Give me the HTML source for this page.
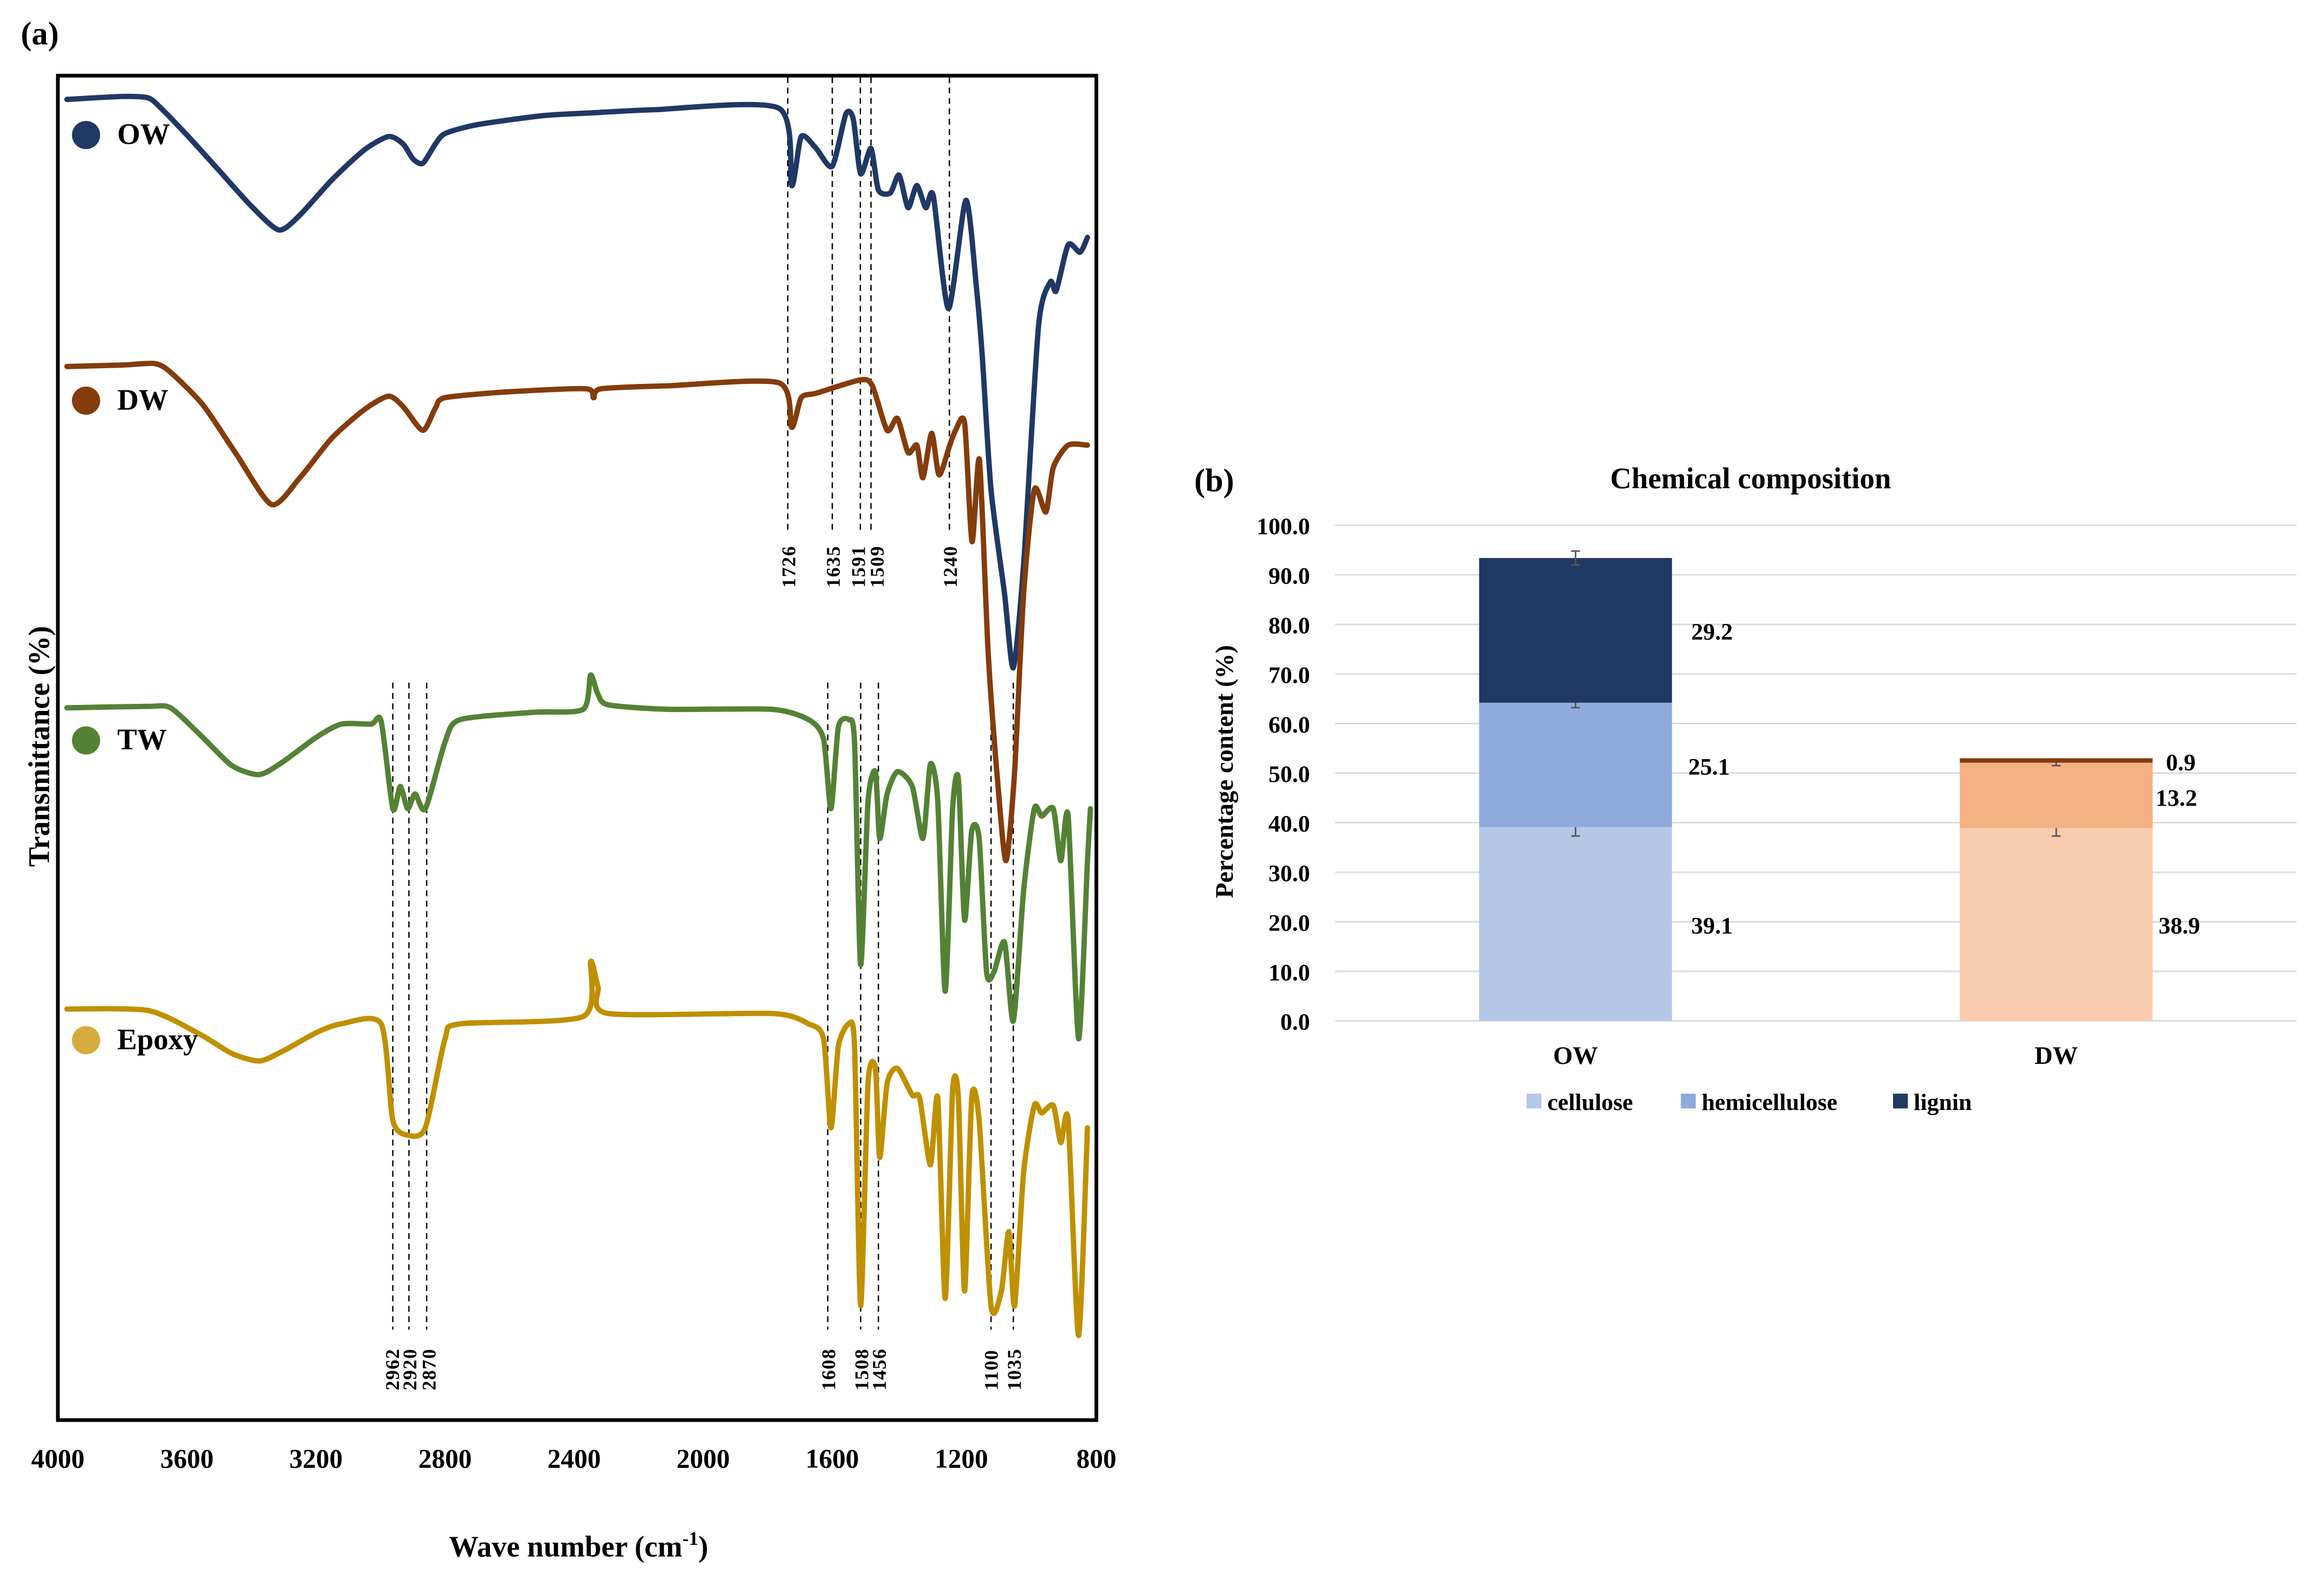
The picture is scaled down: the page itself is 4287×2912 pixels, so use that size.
<!DOCTYPE html>
<html><head><meta charset="utf-8"><style>
html,body{margin:0;padding:0;background:#fff;}
svg{display:block;}
text{font-family:"Liberation Serif",serif;font-weight:bold;fill:#000;}
</style></head><body>
<svg id="fig" width="4287" height="2912" viewBox="0 0 1566.5 1064.1" preserveAspectRatio="none" xmlns="http://www.w3.org/2000/svg">
<rect x="0" y="0" width="1570" height="1070" fill="#fff"/>
<text x="14" y="30" font-size="22">(a)</text>
<rect x="39" y="51" width="700" height="906" fill="none" stroke="#000" stroke-width="2.5"/>
<g id="ftir"></g>
<text x="390" y="1049" font-size="20" text-anchor="middle">Wave number (cm<tspan font-size="13" dy="-8">-1</tspan><tspan dy="8">)</tspan></text>
<text transform="translate(33,503) rotate(-90)" font-size="20" text-anchor="middle">Transmittance (%)</text>

<text x="805" y="331" font-size="22">(b)</text>
<text x="1180" y="329" font-size="20" text-anchor="middle">Chemical composition</text>
<text transform="translate(831,520) rotate(-90)" font-size="17" text-anchor="middle">Percentage content (%)</text>
<g id="bars"></g>
</svg>
<script>
// ---------- Panel (a) FTIR data ----------
const owWn = [3972,3800,3720,3680,3600,3500,3400,3315,3250,3150,3050,2975,2930,2900,2869,2830,2800,2700,2500,2340,2156,1765,1726,1696,1650,1600,1558,1535,1512,1480,1457,1420,1393,1365,1338,1310,1287,1240,1186,1154,1135,1108,1066,1039,1007,961,924,906,869,832,809];
const owT  = [890,892,891,884,866,842,818,802,812,836,856,865,860,850,847,860,867,873,879,881,883,884,832,865,857,845,880,877,840,857,829,827,839,817,832,817,825,749,822,765,717,627,557,507,577,737,767,761,792,787,797];
const dwWn = [3972,3800,3700,3650,3550,3450,3338,3250,3150,3050,2975,2930,2869,2830,2800,2600,2363,2340,2317,2110,1765,1726,1696,1650,1512,1476,1430,1398,1365,1338,1319,1292,1269,1236,1218,1190,1167,1144,1117,1090,1062,1035,1007,974,938,915,869,809];
const dwT  = [710,711,712,706,684,652,617,635,662,681,690,683,667,682,689,693,695,689,695,697,699,669,689,692,701,697,667,675,652,657,635,665,637,657,667,672,592,647,517,437,377,437,557,627,612,642,657,657];
const twWn = [3972,3720,3651,3560,3460,3375,3300,3200,3122,3030,2998,2962,2939,2916,2893,2861,2800,2754,2524,2372,2349,2326,2294,2110,1788,1673,1627,1604,1581,1549,1531,1512,1489,1466,1453,1430,1398,1352,1319,1296,1273,1250,1227,1209,1190,1168,1145,1122,1099,1066,1039,1007,974,951,915,892,869,837,809,800];
const twT  = [480,481,480,462,441,435,444,460,469,469,471,412,427,412,422,412,457,472,477,479,502,489,482,479,479,472,459,412,467,472,457,307,417,437,392,422,437,427,392,442,417,289,412,432,337,397,392,302,302,322,269,357,412,407,412,377,407,257,377,412];
const epWn = [3972,3720,3560,3460,3375,3300,3200,3122,2998,2962,2916,2861,2800,2754,2372,2349,2326,2294,1788,1673,1627,1604,1581,1549,1531,1512,1489,1466,1453,1430,1398,1352,1329,1296,1273,1250,1227,1209,1190,1168,1145,1108,1076,1053,1035,1007,974,951,915,892,869,837,809];
const epT  = [277,276,260,247,242,249,261,267,267,202,192,197,257,267,272,309,292,274,274,267,257,197,252,267,252,77,227,237,177,227,237,219,217,172,217,82,222,217,87,217,202,77,87,127,77,167,212,207,212,187,202,57,197];
const seriesNames = ["OW","DW","TW","Epoxy"];
const seriesColors = ["#203864","#843C0C","#548235","#BF9000"];
const markerColors = ["#203864","#843C0C","#548235","#D4AC3C"];
const topPeaks = [1726,1635,1591,1509,1240];
const topLineWn = [1738,1600,1513,1480,1237];
const topLabelWn = [1738,1600,1522,1464,1237];
const botPeaks = [2962,2920,2870,1608,1508,1456,1100,1035];
const botLineWn = [2962,2912,2857,1614,1512,1457,1108,1039];
const botLabelWn = [2966,2912,2852,1614,1512,1457,1110,1039];
const xTicks = [4000,3600,3200,2800,2400,2000,1600,1200,800];

const NS = "http://www.w3.org/2000/svg";
function mk(tag, attrs, parent){const e=document.createElementNS(NS,tag);for(const k in attrs)e.setAttribute(k,attrs[k]);parent.appendChild(e);return e;}
const xS = wn => 39 + (4000 - wn) * 0.2175;
const yS = t => 957 - t;
const g = document.getElementById('ftir');

function smoothPath(P){
  let d='M'+P[0][0].toFixed(1)+','+P[0][1].toFixed(1);
  for(let i=0;i<P.length-1;i++){
    const p0=P[Math.max(0,i-1)],p1=P[i],p2=P[i+1],p3=P[Math.min(P.length-1,i+2)];
    const k=0.12;
    const c1=[p1[0]+(p2[0]-p0[0])*k,p1[1]+(p2[1]-p0[1])*k];
    const c2=[p2[0]-(p3[0]-p1[0])*k,p2[1]-(p3[1]-p1[1])*k];
    d+=`C${c1[0].toFixed(1)},${c1[1].toFixed(1)} ${c2[0].toFixed(1)},${c2[1].toFixed(1)} ${p2[0].toFixed(1)},${p2[1].toFixed(1)}`;
  }
  return d;
}

topPeaks.forEach((p,i)=>{
  const x=xS(topLineWn[i]);
  const l=mk('line',{x1:x,x2:x,y1:52,y2:357,stroke:'#000','stroke-width':0.9,'stroke-dasharray':'4,3'},g);
  
  
  const t=mk('text',{transform:`translate(${xS(topLabelWn[i])+5},${396}) rotate(-90)`,'font-size':13,'letter-spacing':'0.6'},g);
  t.textContent=p;
  
  
});
botPeaks.forEach((p,i)=>{
  const x=xS(botLineWn[i]);
  const l=mk('line',{x1:x,x2:x,y1:460,y2:896,stroke:'#000','stroke-width':0.9,'stroke-dasharray':'4,3'},g);
  
  
  const t=mk('text',{transform:`translate(${xS(botLabelWn[i])+5},${937}) rotate(-90)`,'font-size':13,'letter-spacing':'0.6'},g);
  t.textContent=p;
  
  
});

const allWn=[owWn,dwWn,twWn,epWn], allT=[owT,dwT,twT,epT];
allWn.forEach((wn,i)=>{
  const P=wn.map((w,j)=>[xS(w),yS(allT[i][j])]);
  const pl=mk('path',{d:smoothPath(P),fill:'none',stroke:seriesColors[i],'stroke-width':3.6,'stroke-linejoin':'round','stroke-linecap':'round'},g);
  
  
});
const legY=[91,270,499,701];
seriesNames.forEach((n,i)=>{
  const c=mk('circle',{cx:58,cy:legY[i],r:9.5,fill:markerColors[i]},g);
  
  
  const t=mk('text',{x:79,y:legY[i]+6,'font-size':20},g);
  t.textContent=n;
  
  
});
xTicks.forEach((v,i)=>{
  const x = i===xTicks.length-1 ? xS(v)+4 : xS(v);
  const t=mk('text',{x:x,y:989,'font-size':18,'text-anchor':'middle'},g);
  t.textContent=v;
  
  
});

// ---------- Panel (b) composition data ----------
const categories = ["OW","DW"];
const components = ["cellulose","hemicellulose","lignin"];
const cellulose = [39.1,38.9];
const hemicellulose = [25.1,13.2];
const lignin = [29.2,0.9];
const errCellulose = [1.8,1.6];
const errHemi = [1.0,0.6];
const errLignin = [1.4,0.0];
const yTicks = [0,10,20,30,40,50,60,70,80,90,100];
const colorsOW = ["#B4C7E7","#8FAADC","#203864"];
const colorsDW = ["#F8CBAD","#F4B183","#843C0C"];

const b=document.getElementById('bars');
const yB = v => 688 - v*3.34;
const xC = i => 1062 + i*324;
const bw = 130;
yTicks.forEach(v=>{
  const l=mk('line',{x1:900,x2:1548,y1:yB(v),y2:yB(v),stroke:'#D9D9D9','stroke-width':1},b);
  
  
  const t=mk('text',{x:883,y:yB(v)+6,'font-size':16,'text-anchor':'end'},b);
  t.textContent=v.toFixed(1);
  
  
});
const vals=[cellulose,hemicellulose,lignin], errs=[errCellulose,errHemi,errLignin];
categories.forEach((c,i)=>{
  let base=0;
  const cols = i===0?colorsOW:colorsDW;
  vals.forEach((arr,k)=>{
    const v=arr[i];
    const r=mk('rect',{x:xC(i)-bw/2,y:yB(base+v),width:bw,height:yB(base)-yB(base+v),fill:cols[k]},b);
    
    
    const top=base+v, e=errs[k][i];
    if(e>0){
      const eg=mk('path',{d:`M${xC(i)},${yB(top+e)}V${yB(top-e)}M${xC(i)-3},${yB(top+e)}h6M${xC(i)-3},${yB(top-e)}h6`,stroke:'#555','stroke-width':1,fill:'none'},b);
      
      
    }
    base=top;
  });
});
const lblPos=[[[1140,629],[1138,522],[1140,431]],[[1455,629],[1453,543],[1460,519]]];
categories.forEach((c,i)=>{
  vals.forEach((arr,k)=>{
    const t=mk('text',{x:lblPos[i][k][0],y:lblPos[i][k][1],'font-size':16},b);
    t.textContent=arr[i].toFixed(1);
    
    
  });
  const t=mk('text',{x:xC(i),y:717,'font-size':17,'text-anchor':'middle'},b);
  t.textContent=c;
  
  
});
const legX=[1029,1133,1276];
components.forEach((n,k)=>{
  const r=mk('rect',{x:legX[k],y:737,width:10,height:10,fill:colorsOW[k]},b);
  
  
  const t=mk('text',{x:legX[k]+14,y:748,'font-size':16},b);
  t.textContent=n;
  
  
});
</script>
</body></html>
